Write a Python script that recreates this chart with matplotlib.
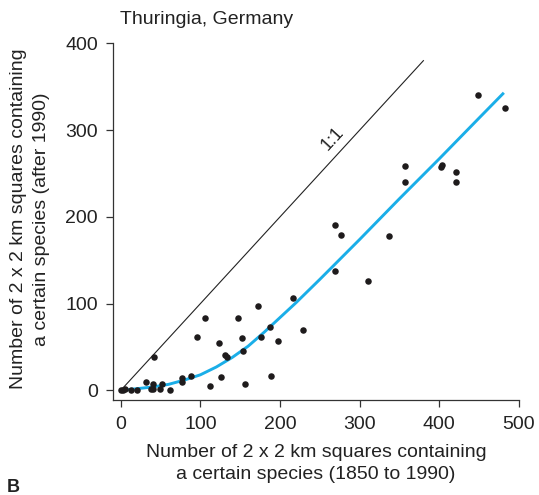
import numpy as np
import matplotlib
matplotlib.use("Agg")
import matplotlib.pyplot as plt

plt.rcParams['font.family'] = ['Liberation Sans', 'DejaVu Sans']

# Observed points: (squares 1850-1990, squares after 1990)
x_before = [0, 3, 6, 13, 21, 32, 38, 40, 40, 42, 49, 52, 62, 77, 77, 88, 96, 106,
            112, 123, 126, 131, 133, 147, 152, 154, 156, 173, 176, 187, 189, 198,
            216, 229, 269, 277, 269, 311, 337, 357, 357, 402, 403, 421, 421, 449, 482]
y_after = [1, 1, 2, 0, 0, 10, 2, 2, 7, 38, 2, 7, 0, 14, 10, 17, 62, 83,
           5, 55, 15, 41, 38, 83, 60, 46, 8, 97, 62, 73, 17, 57,
           106, 70, 191, 179, 138, 126, 178, 259, 240, 258, 260, 252, 240, 340, 325]

# Fitted curve
curve_x = [0, 20, 40, 60, 80, 100, 120, 140, 160, 180, 200, 220, 250, 300, 350, 400, 450, 481]
curve_y = [0, 2, 4, 7, 12, 18, 27, 38, 51, 67, 84, 101, 128, 174, 221, 267, 314, 343]

# 1:1 reference line
ref_x = [0, 380]
ref_y = [0, 380]

x_ticks = [0, 100, 200, 300, 400, 500]
y_ticks = [0, 100, 200, 300, 400]

W, H = 539, 495
fig = plt.figure(figsize=(W / 100, H / 100), dpi=100)
ax = fig.add_axes([112.7 / W, 1 - 400 / H, (519 - 112.7) / W, (400 - 43.3) / H])

ax.plot(ref_x, ref_y, color='#222222', lw=0.8, zorder=1)
ax.plot(curve_x, curve_y, color='#1AAEE8', lw=2.1, zorder=2, solid_capstyle='butt')
ax.scatter(x_before, y_after, s=22, color='#1e1b1c', zorder=3, linewidths=0)

ax.text(266, 290, '1:1', rotation=45, transform_rotates_text=True,
        ha='center', va='center', fontsize=13, color='#222222', rotation_mode='anchor')

ax.set_xlim(-10, 500)
ax.set_ylim(-11, 400)
ax.set_xticks(x_ticks)
ax.set_yticks(y_ticks)
for s in ['top', 'right']:
    ax.spines[s].set_visible(False)
for s in ['left', 'bottom']:
    ax.spines[s].set_color('#333333')
    ax.spines[s].set_linewidth(0.9)
ax.tick_params(direction='out', length=5, width=0.9, color='#333333',
               labelsize=14, labelcolor='#222222')
ax.tick_params(axis='x', pad=6.5)
ax.tick_params(axis='y', pad=5.5)

fig.text(316 / W, 1 - 463.5 / H,
         'Number of 2 x 2 km squares containing\na certain species (1850 to 1990)',
         fontsize=14, color='#222222', ha='center', va='center', linespacing=1.38,
         multialignment='center')
fig.text(30 / W, 1 - 219 / H,
         'Number of 2 x 2 km squares containing\na certain species (after 1990)',
         fontsize=14, color='#222222', ha='center', va='center', rotation=90,
         linespacing=1.42, multialignment='center')

fig.text(120 / W, 1 - 20 / H, 'Thuringia, Germany', fontsize=14, color='#222222',
         ha='left', va='center')
fig.text(7 / W, 1 - 488 / H, 'B', fontsize=13, fontweight='bold', color='#222222',
         ha='left', va='center')

fig.savefig('out.png', dpi=100)
